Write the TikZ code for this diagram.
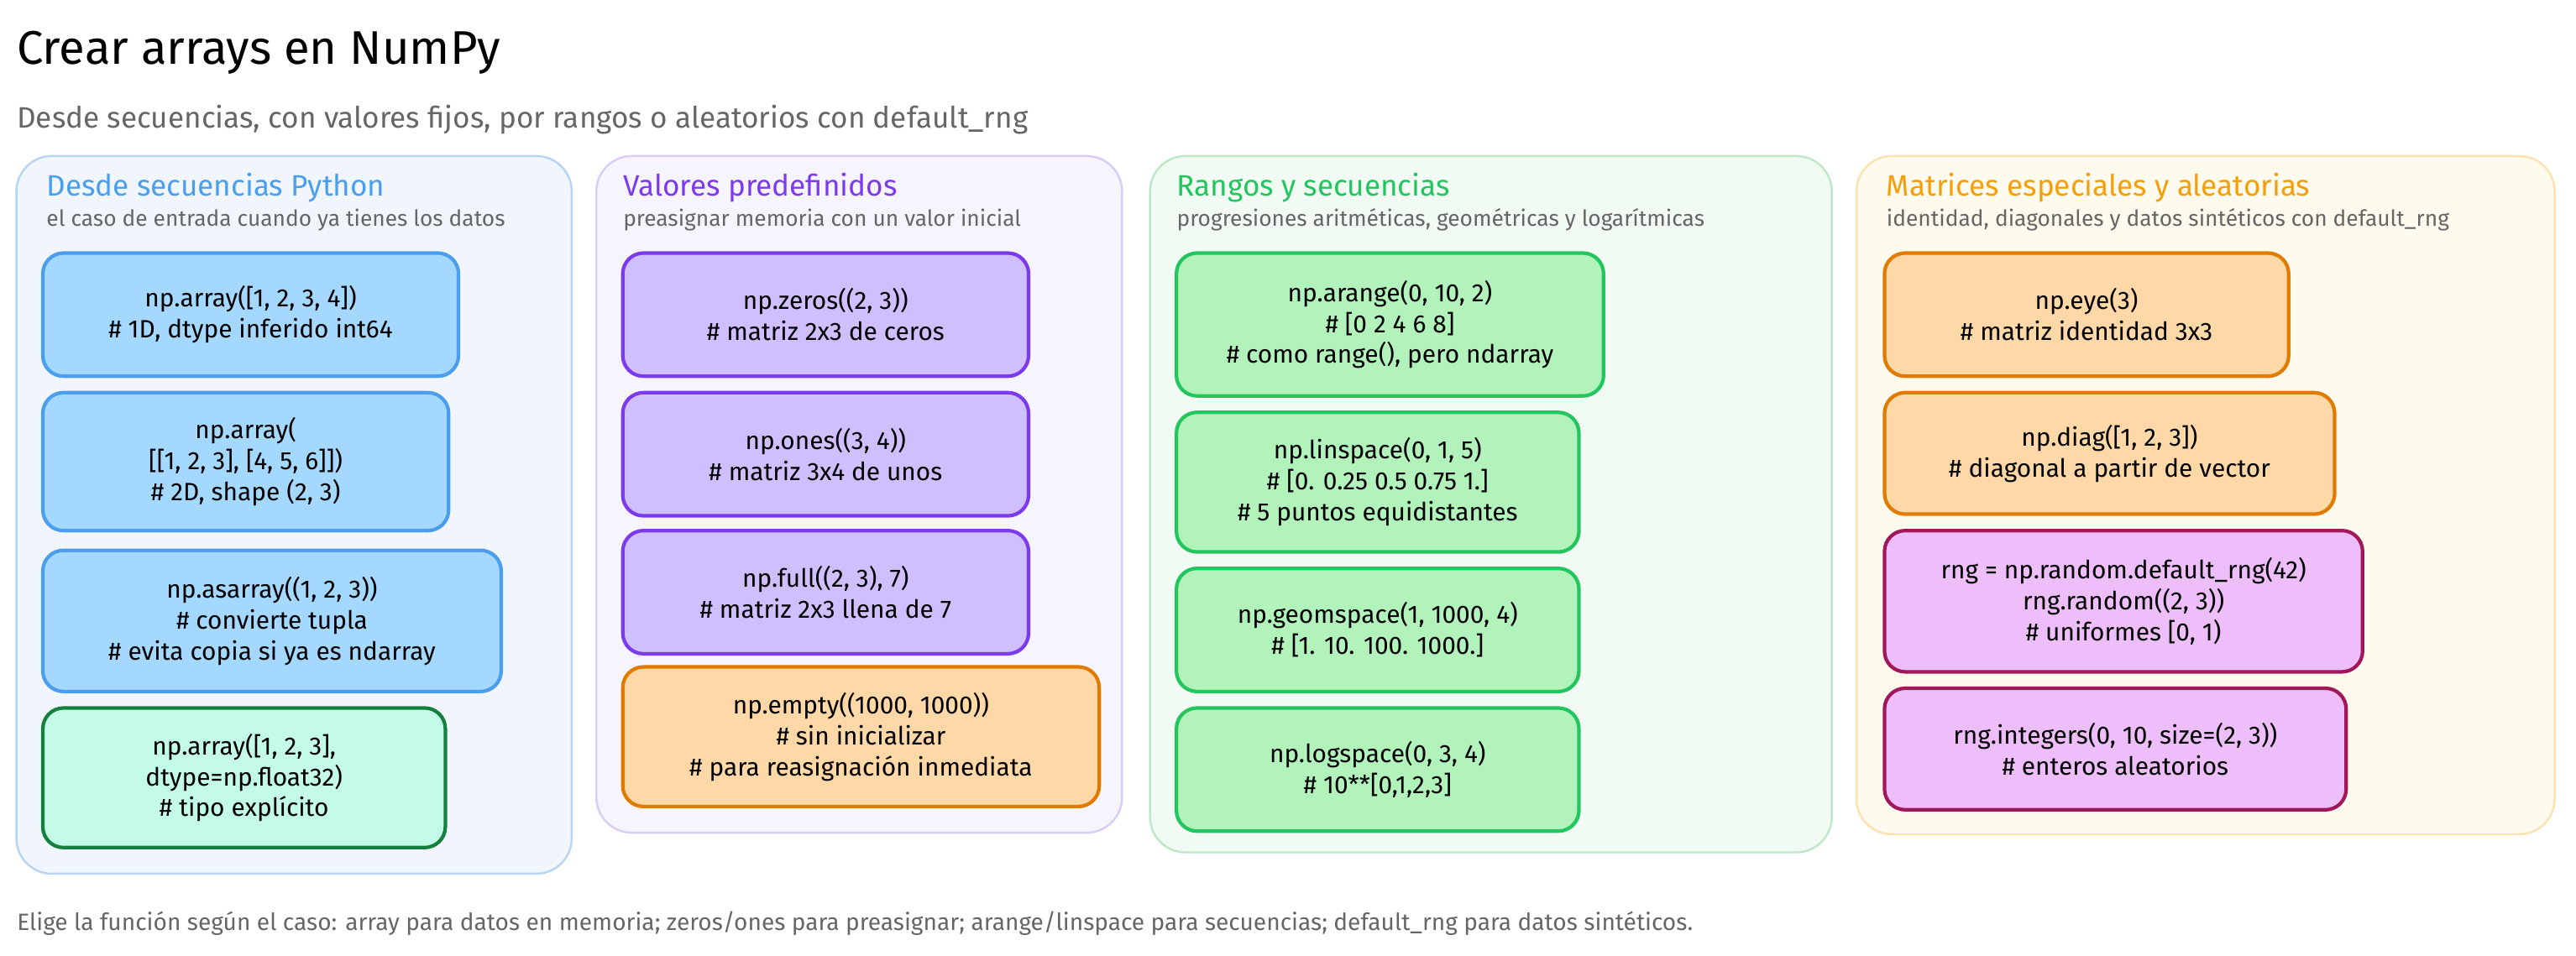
\documentclass[tikz,border=0pt]{standalone}
\usepackage{fontspec}
\setmainfont{Fira Sans}
\usetikzlibrary{positioning}
\definecolor{bluefill}{HTML}{A5D8FF}\definecolor{blueline}{HTML}{4A9EED}
\definecolor{purfill}{HTML}{D0BFFF}\definecolor{purline}{HTML}{7C3AED}
\definecolor{grnfill}{HTML}{B2F2BB}\definecolor{grnline}{HTML}{22C55E}
\definecolor{mintfill}{HTML}{C3FAE8}\definecolor{mintline}{HTML}{15803D}
\definecolor{orgfill}{HTML}{FFD8A8}\definecolor{orgline}{HTML}{E07B00}
\definecolor{magfill}{HTML}{EEBEFA}\definecolor{magline}{HTML}{A0185A}
\definecolor{pblue}{HTML}{F1F6FD}\definecolor{pbluel}{HTML}{B8D4F5}
\definecolor{ppur}{HTML}{F6F4FD}\definecolor{ppurl}{HTML}{D9CCF7}
\definecolor{pgrn}{HTML}{F1FAF3}\definecolor{pgrnl}{HTML}{BFE8C8}
\definecolor{pyel}{HTML}{FFFAEE}\definecolor{pyell}{HTML}{FBE3B0}
\definecolor{tblue}{HTML}{4A9EED}\definecolor{tpur}{HTML}{7C3AED}
\definecolor{tgrn}{HTML}{22C55E}\definecolor{tyel}{HTML}{F59E0B}
\tikzset{
    panel/.style={
    rectangle,rounded corners=12pt,line width=0.7pt
    },
    card/.style={
    rectangle,rounded corners=7pt,line width=1.2pt,anchor=north west,
    align=center,font=\fontsize{8.5}{10.5}\selectfont,inner sep=0pt
    },
    ptitle/.style={anchor=west,font=\fontsize{10}{12}\selectfont,inner sep=0pt},
    psub/.style={anchor=west,font=\fontsize{7.5}{9}\selectfont,text=black!60,inner sep=0pt},
}
\newcommand{\card}[7]{% name, x1,y1,x2,y2, style, text
  \node[card,#6,minimum width={(#4-#2)*0.01957cm},minimum height={(#5-#3)*0.01957cm}] (#1) at (#2,#3) {#7};}
\begin{document}
\begin{tikzpicture}[x=0.01957cm,y=-0.01957cm]
  \useasboundingbox[fill=white] (0,0) rectangle (1568,582);
  \node[anchor=west,inner sep=0pt,font=\fontsize{16}{19}\selectfont] (title) at (10,32) {Crear arrays en NumPy};
  \node[anchor=west,inner sep=0pt,font=\fontsize{10}{12}\selectfont,text=black!60] (sub) at (10,73)
    {Desde secuencias, con valores fijos, por rangos o aleatorios con default\_rng};

  % panels
  \draw[panel,fill=pblue,draw=pbluel] (10,95) rectangle (348,532);
  \draw[panel,fill=ppur,draw=ppurl] (363,95) rectangle (683,507);
  \draw[panel,fill=pgrn,draw=pgrnl] (700,95) rectangle (1115,519);
  \draw[panel,fill=pyel,draw=pyell] (1130,95) rectangle (1555,508);

  \node[ptitle,text=tblue] (t1) at (28,114) {Desde secuencias Python};
  \node[psub] (s1) at (28,134) {el caso de entrada cuando ya tienes los datos};
  \node[ptitle,text=tpur] (t2) at (379,114) {Valores predefinidos};
  \node[psub] (s2) at (379,134) {preasignar memoria con un valor inicial};
  \node[ptitle,text=tgrn] (t3) at (716,114) {Rangos y secuencias};
  \node[psub] (s3) at (716,134) {progresiones aritméticas, geométricas y logarítmicas};
  \node[ptitle,text=tyel] (t4) at (1148,114) {Matrices especiales y aleatorias};
  \node[psub] (s4) at (1148,134) {identidad, diagonales y datos sintéticos con default\_rng};

  % column 1
  \tikzset{bl/.style={fill=bluefill,draw=blueline}}
  \card{arr1}{25}{153}{278}{228}{bl}{np.array([1, 2, 3, 4])\\\# 1D, dtype inferido int64}
  \card{arr2}{25}{238}{272}{322}{bl}{np.array(\\ {[[1, 2, 3], [4, 5, 6]])}\\\# 2D, shape (2, 3)}
  \card{asarr}{25}{334}{304}{420}{bl}{np.asarray((1, 2, 3))\\\# convierte tupla\\\# evita copia si ya es ndarray}
  \card{arrdt}{25}{430}{270}{515}{fill=mintfill,draw=mintline}{np.array([1, 2, 3],\\ dtype=np.float32)\\\# tipo explícito}

  % column 2
  \tikzset{pu/.style={fill=purfill,draw=purline}}
  \card{zeros}{378}{153}{625}{228}{pu}{np.zeros((2, 3))\\\# matriz 2x3 de ceros}
  \card{ones}{378}{238}{625}{313}{pu}{np.ones((3, 4))\\\# matriz 3x4 de unos}
  \card{full}{378}{322}{625}{397}{pu}{np.full((2, 3), 7)\\\# matriz 2x3 llena de 7}
  \card{empty}{378}{405}{668}{490}{fill=orgfill,draw=orgline}{np.empty((1000, 1000))\\\# sin inicializar\\\# para reasignación inmediata}

  % column 3
  \tikzset{gr/.style={fill=grnfill,draw=grnline}}
  \card{arange}{715}{153}{975}{240}{gr}{np.arange(0, 10, 2)\\\# [0 2 4 6 8]\\\# como range(), pero ndarray}
  \card{linsp}{715}{250}{960}{335}{gr}{np.linspace(0, 1, 5)\\\# [0. 0.25 0.5 0.75 1.]\\\# 5 puntos equidistantes}
  \card{geomsp}{715}{345}{960}{420}{gr}{np.geomspace(1, 1000, 4)\\\# [1. 10. 100. 1000.]}
  \card{logsp}{715}{430}{960}{505}{gr}{np.logspace(0, 3, 4)\\\# 10**[0,1,2,3]}

  % column 4
  \tikzset{ma/.style={fill=magfill,draw=magline}}
  \card{eye}{1146}{153}{1392}{228}{fill=orgfill,draw=orgline}{np.eye(3)\\\# matriz identidad 3x3}
  \card{diag}{1146}{238}{1420}{312}{fill=orgfill,draw=orgline}{np.diag([1, 2, 3])\\\# diagonal a partir de vector}
  \card{rng}{1146}{322}{1437}{408}{ma}{rng = np.random.default\_rng(42)\\rng.random((2, 3))\\\# uniformes [0, 1)}
  \card{ints}{1146}{418}{1427}{492}{ma}{rng.integers(0, 10, size=(2, 3))\\\# enteros aleatorios}

  \node[anchor=west,inner sep=0pt,font=\fontsize{8}{10}\selectfont,text=black!60] (foot) at (10,562)
    {Elige la función según el caso: array para datos en memoria; zeros/ones para preasignar; arange/linspace para secuencias; default\_rng para datos sintéticos.};
\end{tikzpicture}
\end{document}
